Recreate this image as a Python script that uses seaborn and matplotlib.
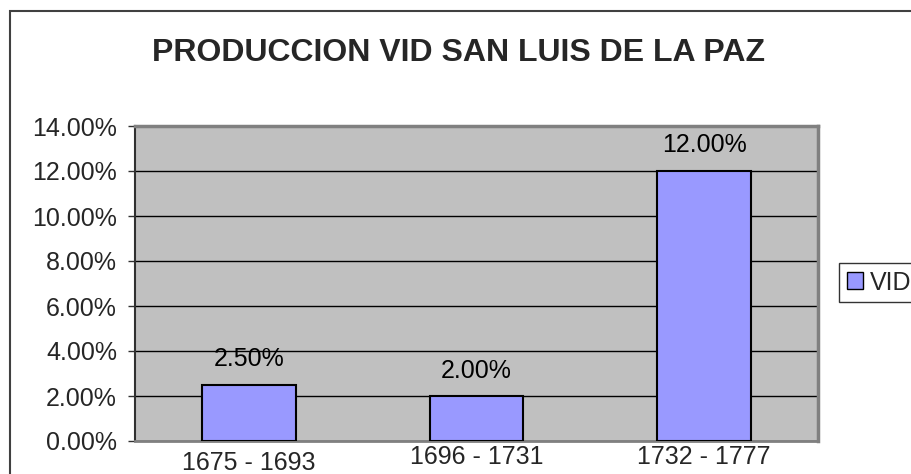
import numpy as np
import pandas as pd
import matplotlib
matplotlib.use("Agg")
import matplotlib.pyplot as plt
import seaborn as sns
from matplotlib.patches import Patch, Rectangle

# datos
periodos = ['1675 - 1693', '1696 - 1731', '1732 - 1777']
vid = [2.5, 2.0, 12.0]
yticks = [0, 2, 4, 6, 8, 10, 12, 14]

df = pd.DataFrame({'periodo': periodos, 'vid': vid})

sns.set_theme(style="white")
plt.rcParams['font.family'] = ['Liberation Sans', 'DejaVu Sans']

W, H = 911, 474
fig = plt.figure(figsize=(W / 100, H / 100), dpi=100)
ax = fig.add_axes([135 / W, 1 - 441 / H, (818 - 135) / W, (441 - 126) / H])
ax.set_facecolor('#C0C0C0')

sns.barplot(data=df, x='periodo', y='vid', color='#9999FF', width=0.41,
            edgecolor='black', linewidth=1.5, saturation=1, ax=ax, zorder=3)

ax.set_xlim(-0.5, 2.5)
ax.set_ylim(0, 14)
ax.set_yticks(yticks)
ax.set_yticklabels(['%.2f%%' % t for t in yticks])
ax.yaxis.grid(True, color='black', linewidth=1, zorder=0)
ax.set_axisbelow(True)
ax.set_xlabel('')
ax.set_ylabel('')

for s in ['top', 'right']:
    ax.spines[s].set_color('#808080')
    ax.spines[s].set_linewidth(2.5)
ax.spines['left'].set_color('#303030')
ax.spines['left'].set_linewidth(1.5)
ax.spines['bottom'].set_color('#808080')
ax.spines['bottom'].set_linewidth(2)

ax.tick_params(axis='y', direction='out', length=5, width=1, color='#303030',
               pad=8, labelsize=18, left=True)
ax.tick_params(axis='x', length=0, pad=3, labelsize=18)
ax.xaxis.get_major_ticks()[0].set_pad(7.5)

for i, v in enumerate(vid):
    ax.text(i, v + 0.6, '%.2f%%' % v, ha='center', va='bottom', fontsize=18,
            color='black', zorder=4)

fig.text(458 / W, 1 - 53 / H, 'PRODUCCION VID SAN LUIS DE LA PAZ',
         ha='center', va='center', fontsize=23, fontweight='bold')

fig.legend(handles=[Patch(facecolor='#9999FF', edgecolor='black', linewidth=1)],
           labels=['VID'], loc='upper left', bbox_to_anchor=(839 / W, 1 - 263 / H),
           fontsize=18, frameon=True, fancybox=False, edgecolor='black',
           handlelength=0.65, handleheight=0.65, handletextpad=0.3,
           borderpad=0.3, borderaxespad=0)

fig.patches.append(Rectangle((10 / W, -0.1), 1.2, 1.1 - 11 / H, transform=fig.transFigure,
                             facecolor='none', edgecolor='#404040', linewidth=1.5))

fig.savefig('out.png', dpi=100)
